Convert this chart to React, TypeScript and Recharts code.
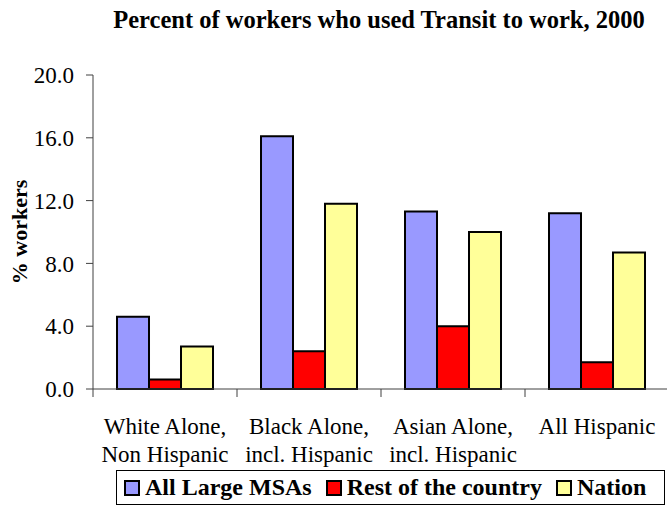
import React from "react";
import { BarChart, Bar, XAxis, YAxis, Legend } from "recharts";

const categories = [
  "White Alone,\nNon Hispanic",
  "Black Alone,\nincl. Hispanic",
  "Asian Alone,\nincl. Hispanic",
  "All Hispanic",
];
const largeMsas = [4.6, 16.1, 11.3, 11.2];
const restOfCountry = [0.6, 2.4, 4.0, 1.7];
const nation = [2.7, 11.8, 10.0, 8.7];
const yTicks = [0, 4, 8, 12, 16, 20];

const seriesInfo = [
  { key: "msa", name: "All Large MSAs", color: "#9999FF" },
  { key: "rest", name: "Rest of the country", color: "#FF0000" },
  { key: "nation", name: "Nation", color: "#FFFF99" },
];

const data = categories.map((name, i) => ({
  name,
  msa: largeMsas[i],
  rest: restOfCountry[i],
  nation: nation[i],
}));

const FONT = "'Liberation Serif', 'Times New Roman', Times, serif";
const AXIS = "#404040";

// category label split on newline, plus tick marks at the band edges
function CategoryTick(props: any) {
  const { x, y, payload, index } = props;
  const half = payload.offset ?? 0;
  const lines = String(payload.value).split("\n");
  return (
    <g>
      <line x1={x + half} y1={y} x2={x + half} y2={y + 8} stroke={AXIS} />
      {index === 0 && <line x1={x - half} y1={y} x2={x - half} y2={y + 8} stroke={AXIS} />}
      {lines.map((ln, i) => (
        <text key={i} x={x} y={y + 45 + i * 28} textAnchor="middle" fontSize={23} style={{ fontFamily: FONT }} fill="#000">
          {ln}
        </text>
      ))}
    </g>
  );
}

function YLabel(props: any) {
  const vb = props.viewBox || { y: 0, height: 0 };
  const cx = 19;
  const cy = vb.y + vb.height / 2;
  return (
    <text
      x={cx}
      y={cy}
      transform={`rotate(-90 ${cx} ${cy})`}
      textAnchor="middle"
      dominantBaseline="central"
      fontSize={22}
      fontWeight="bold"
      style={{ fontFamily: FONT }}
      fill="#000"
    >
      % workers
    </text>
  );
}

function LegendBox() {
  return (
    <div
      style={{
        boxSizing: "border-box",
        height: 35,
        border: "1px solid #000",
        display: "flex",
        alignItems: "center",
        paddingLeft: 7,
        fontFamily: FONT,
        fontWeight: "bold",
        fontSize: 24,
        background: "#fff",
      }}
    >
      {seriesInfo.map((s, i) => (
        <div key={s.key} style={{ display: "flex", alignItems: "center", marginRight: i < 2 ? 14 : 0 }}>
          <span
            style={{
              display: "inline-block",
              boxSizing: "border-box",
              width: 16,
              height: 16,
              background: s.color,
              border: "2px solid #000",
              marginRight: 5,
            }}
          />
          <span>{s.name}</span>
        </div>
      ))}
    </div>
  );
}

export default function App() {
  return (
    <div style={{ position: "absolute", left: 0, top: 0, width: 667, height: 508, background: "#fff" }}>
      <div
        style={{
          position: "absolute",
          left: 0,
          width: 758,
          top: 6,
          textAlign: "center",
          fontFamily: FONT,
          fontWeight: "bold",
          fontSize: 24.5,
          lineHeight: "27px",
        }}
      >
        Percent of workers who used Transit to work, 2000
      </div>
      <BarChart
        width={667}
        height={508}
        data={data}
        margin={{ top: 75, right: -2, bottom: 0, left: 0 }}
        barCategoryGap="16.67%"
        barGap={0}
      >
        <XAxis
          dataKey="name"
          height={83}
          axisLine={{ stroke: AXIS }}
          tickLine={false}
          tickSize={0}
          tickMargin={0}
          interval={0}
          tick={<CategoryTick />}
        />
        <YAxis
          width={93}
          domain={[0, 20]}
          ticks={yTicks}
          tickFormatter={(v: number) => v.toFixed(1)}
          axisLine={{ stroke: AXIS }}
          tickLine={{ stroke: AXIS }}
          tickSize={7}
          tickMargin={12}
          tick={{ fontSize: 23, style: { fontFamily: FONT }, fill: "#000" }}
          label={<YLabel />}
        />
        <Legend
          verticalAlign="bottom"
          content={<LegendBox />}
          wrapperStyle={{ left: 116, width: 549, height: 36, bottom: 2 }}
        />
        {seriesInfo.map((s) => (
          <Bar
            key={s.key}
            dataKey={s.key}
            name={s.name}
            fill={s.color}
            stroke="#000"
            strokeWidth={2}
            isAnimationActive={false}
          />
        ))}
      </BarChart>
    </div>
  );
}
